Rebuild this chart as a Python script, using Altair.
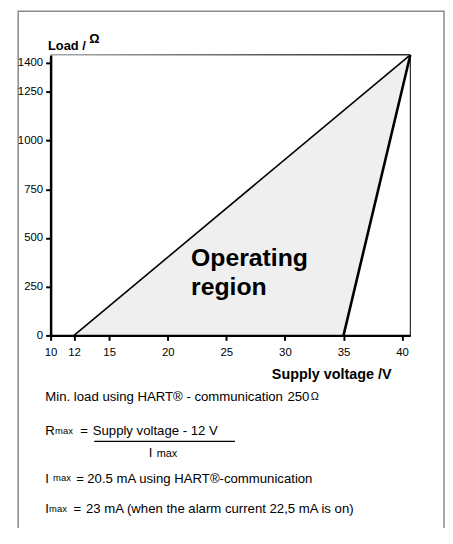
import altair as alt
import pandas as pd

# ---- data ----
voltage_ticks = [10, 12, 15, 20, 25, 30, 35, 40]
load_ticks = [0, 250, 500, 750, 1000, 1250, 1400]

region_voltage = [12, 35, 40.7]
region_upper = [0, 1154, 1440]
region_lower = [0, 0, 1440]

max_line_v = [12, 40.7]
max_line_r = [0, 1440]
min_line_v = [35, 40.7]
min_line_r = [0, 1440]

FONT = "Liberation Sans"
W, H = 363, 283
NOTE = 13.3

xscale = alt.Scale(domain=[10, 40.7], nice=False, zero=False)
yscale = alt.Scale(domain=[0, 1440], nice=False, zero=True)

xaxis = alt.Axis(values=voltage_ticks, title=None, grid=False, domainColor="black",
                 domainWidth=2.5, tickColor="black", tickWidth=2, tickSize=5,
                 labelFont=FONT, labelFontSize=11.5, labelColor="black", labelPadding=6,
                 labelFlush=False, labelOverlap=False, format="d", zindex=1)
yaxis = alt.Axis(values=load_ticks, title=None, grid=False, domainColor="black",
                 domainWidth=2.5, tickColor="black", tickWidth=2, tickSize=5,
                 labelFont=FONT, labelFontSize=11.5, labelColor="black", labelPadding=3,
                 labelOverlap=False, format="d", zindex=1)

region_df = pd.DataFrame({"v": region_voltage, "r": region_upper, "r2": region_lower})
area = alt.Chart(region_df).mark_area(color="#efefef", opacity=1).encode(
    x=alt.X("v:Q", scale=xscale, axis=xaxis),
    y=alt.Y("r:Q", scale=yscale, axis=yaxis),
    y2="r2:Q",
)

max_df = pd.DataFrame({"v": max_line_v, "r": max_line_r})
min_df = pd.DataFrame({"v": min_line_v, "r": min_line_r})
line_max = alt.Chart(max_df).mark_line(color="black", strokeWidth=1.6).encode(
    x="v:Q", y="r:Q")
line_min = alt.Chart(min_df).mark_line(color="black", strokeWidth=2.6).encode(
    x="v:Q", y="r:Q")

one = pd.DataFrame({"k": [0]})

right_border = alt.Chart(one).mark_rule(color="black", strokeWidth=1).encode(
    x=alt.value(W), y=alt.value(0), y2=alt.value(H))

grad = alt.LinearGradient(gradient="linear",
                          stops=[alt.GradientStop(color="#a8a8a8", offset=0),
                                 alt.GradientStop(color="#2a2a2a", offset=1)],
                          x1=0, x2=1, y1=0, y2=0)
top_border = alt.Chart(one).mark_rect(color=grad).encode(
    x=alt.value(0), x2=alt.value(W), y=alt.value(-1), y2=alt.value(0.6))

frame = alt.Chart(one).mark_rect(fillOpacity=0, stroke="#8a8a8a", strokeWidth=1.5).encode(
    x=alt.value(-32.7), x2=alt.value(397), y=alt.value(-44), y2=alt.value(500))

frac_line = alt.Chart(one).mark_rule(color="black", strokeWidth=1.4).encode(
    x=alt.value(44), x2=alt.value(186), y=alt.value(390))


def label(text, x, y, size, weight="normal", align="left"):
    return alt.Chart(one).mark_text(
        text=text, align=align, baseline="alphabetic", font=FONT,
        fontSize=size, fontWeight=weight, color="black"
    ).encode(x=alt.value(x), y=alt.value(y))


texts = [
    label("Load /", -2.7, -5.5, 13, "bold"),
    label("\u03a9", 39, -12, 13, "bold"),
    label("Supply voltage /V", 344, 327, 14.5, "bold", "right"),
    label("Operating", 141.7, 213, 25, "bold"),
    label("region", 141.7, 242, 25, "bold"),
    label("Min. load using HART\u00ae - communication", -5.3, 349.5, NOTE),
    label("250", 239, 349.5, NOTE),
    label("\u03a9", 262.5, 348, 11),
    label("R", -5.3, 384, NOTE),
    label("max", 4.5, 383, 9.5),
    label("=", 30, 384, NOTE),
    label("Supply voltage - 12 V", 42.5, 384, NOTE),
    label("I", 99, 406, NOTE),
    label("max", 107, 406, 11),
    label("I", -5.3, 432, NOTE),
    label("max", 2.5, 430, 9.5),
    label("=", 26, 432, NOTE),
    label("20.5 mA using HART\u00ae-communication", 37, 432, NOTE),
    label("I", -5.3, 462, NOTE),
    label("max", -1.5, 461, 9.5),
    label("=", 23, 462, NOTE),
    label("23 mA (when the alarm current 22,5 mA is on)", 35.7, 462, NOTE),
]

chart = alt.layer(
    frame, area, line_max, line_min, right_border, top_border, frac_line, *texts
).properties(
    width=W, height=H,
    autosize=alt.AutoSizeParams(type="none"),
    padding={"left": 43, "top": 45, "right": 35, "bottom": 192},
).configure_view(strokeWidth=0)

chart.save("out.html", embed_options={"renderer": "svg", "actions": False})
